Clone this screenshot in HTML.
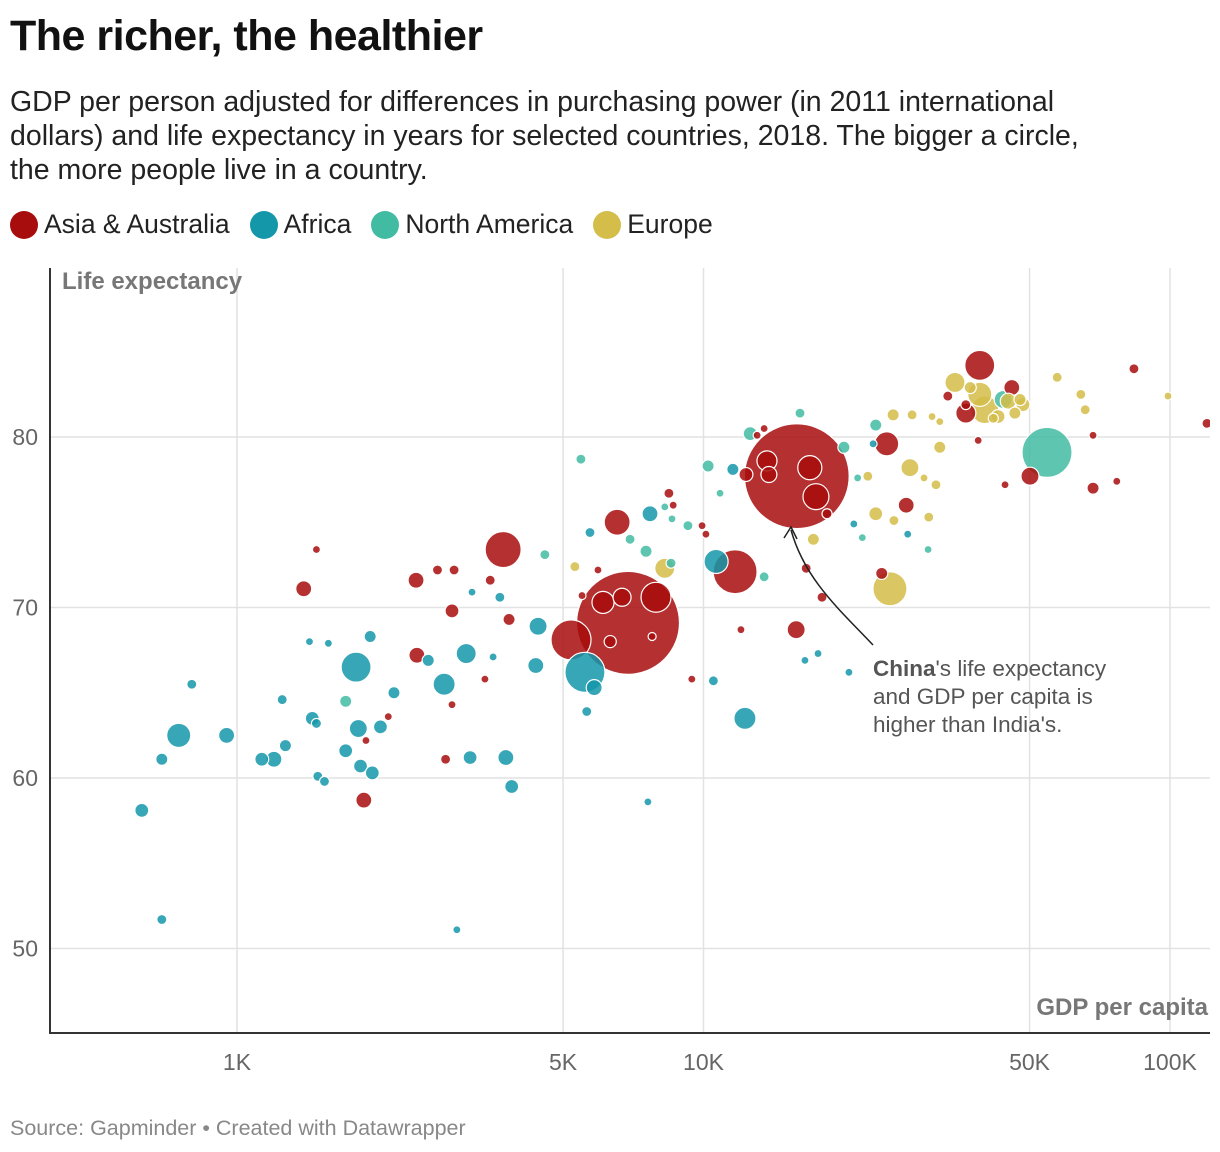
<!DOCTYPE html>
<html><head><meta charset="utf-8">
<style>
body{margin:0;background:#fff;font-family:"Liberation Sans",sans-serif;}
#wrap{position:relative;width:1220px;height:1152px;overflow:hidden;}
h1{position:absolute;left:10px;top:12px;margin:0;font-size:43px;font-weight:bold;color:#111;letter-spacing:-0.5px;}
.sub{position:absolute;left:10px;top:85px;width:1110px;font-size:28.5px;line-height:34px;color:#222;}
.legend{position:absolute;left:10px;top:209px;font-size:26.5px;color:#222;display:flex;gap:20px;}
.legend span{display:flex;align-items:center;}
.legend i{display:inline-block;width:28px;height:28px;border-radius:50%;margin-right:6px;}
.src{position:absolute;left:10px;top:1116px;font-size:21.5px;color:#888;}
svg{position:absolute;left:0;top:0;}
</style></head><body>
<div id="wrap">
<h1>The richer, the healthier</h1>
<div class="sub">GDP per person adjusted for differences in purchasing power (in 2011 international dollars) and life expectancy in years for selected countries, 2018. The bigger a circle, the more people live in a country.</div>
<div class="legend">
<span><i style="background:#a80d0d"></i>Asia &amp; Australia</span>
<span><i style="background:#1497a9"></i>Africa</span>
<span><i style="background:#42bba3"></i>North America</span>
<span><i style="background:#d4bd48"></i>Europe</span>
</div>
<svg id="chart" width="1220" height="1152"></svg>
<div class="src">Source: Gapminder • Created with Datawrapper</div>
</div>
<script>
const xTicks=[1000,5000,10000,50000,100000];
const xTickLabels=["1K","5K","10K","50K","100K"];
const yTicks=[50,60,70,80];
const regions=["asia","africa","namerica","europe"];
const regionColors=["#a80d0d","#1497a9","#42bba3","#d4bd48"];
const africa=[[625,58.1,25],[690,51.7,13],[690,61.1,19],[750,62.5,75],[800,65.5,13],[950,62.5,33],[1130,61.1,25],[1200,61.1,33],[1270,61.9,19],[1250,64.6,13],[1430,68.0,8],[1450,63.5,25],[1480,63.2,13],[1490,60.1,13],[1540,59.8,13],[1570,67.9,8],[1710,61.6,25],[1800,66.5,116],[1820,62.9,42],[1840,60.7,25],[1930,68.3,19],[1950,60.3,25],[2030,63.0,25],[2170,65.0,19],[2570,66.9,19],[2780,65.5,63],[2960,51.1,8],[3100,67.3,52],[3160,61.2,25],[3190,70.9,8],[3540,67.1,8],[3660,70.6,13],[3770,61.2,33],[3880,59.5,25],[4420,68.9,42],[4370,66.6,33],[5570,66.2,207],[5830,65.3,33],[5620,63.9,13],[7600,58.6,8],[10500,65.7,13],[10640,72.7,75],[12270,63.5,63],[11560,78.1,19],[7680,75.5,33],[16500,66.9,8],[17600,67.3,8],[20500,66.2,8],[21000,74.9,8],[27400,74.3,8],[23100,79.6,8],[5710,74.4,13]];
const northAmerica=[[1710,64.5,19],[4570,73.1,13],[5460,78.7,13],[6960,74.0,13],[7530,73.3,19],[8260,75.9,8],[9260,74.8,13],[8560,75.2,8],[10230,78.3,19],[10850,76.7,8],[12590,80.2,25],[13490,71.8,13],[16100,81.4,13],[20000,79.4,19],[21400,77.6,8],[21900,74.1,8],[23400,80.7,19],[30300,73.4,8],[43900,82.2,42],[54500,79.1,323],[8520,72.6,13]];
const europe=[[5300,72.4,13],[8260,72.3,52],[17200,74.0,19],[22500,77.7,13],[23400,75.5,25],[25600,75.1,13],[25100,71.1,150],[25500,81.3,19],[27700,78.2,42],[28000,81.3,13],[29700,77.6,8],[30400,75.3,13],[31500,77.2,13],[32100,79.4,19],[32100,80.9,8],[34600,83.2,52],[37300,82.9,19],[39100,82.5,75],[40100,81.6,100],[42800,81.2,25],[45000,82.1,33],[46500,81.4,19],[47700,82.2,19],[48400,81.9,25],[57300,83.5,13],[64400,82.5,13],[65800,81.6,13],[99000,82.4,8],[30900,81.2,8],[41800,81.1,13]];
const asia=[[1390,71.1,33],[1480,73.4,8],[1870,58.7,33],[1890,62.2,8],[2110,63.6,8],[2420,71.6,33],[2430,67.2,33],[2690,72.2,13],[2890,69.8,25],[2890,64.3,8],[2800,61.1,13],[2920,72.2,13],[3400,65.8,8],[3490,71.6,13],[3720,73.4,168],[3830,69.3,19],[5200,68.1,207],[5490,70.7,8],[5940,72.2,8],[6090,70.3,63],[6310,68.0,19],[6530,75.0,87],[6890,69.1,1370],[6690,70.6,42],[7760,68.3,8],[7910,70.6,116],[8430,76.7,13],[8610,76.0,8],[9440,65.8,8],[9930,74.8,8],[10120,74.3,8],[11690,72.1,250],[12030,68.7,8],[12330,77.8,25],[13030,80.1,8],[13490,80.5,8],[13680,78.6,52],[13810,77.8,33],[15850,77.7,1420],[15800,68.7,42],[16600,72.3,13],[16900,78.2,75],[17420,76.5,87],[17950,70.6,13],[18400,75.5,13],[24700,79.6,75],[24100,72.0,19],[27200,76.0,33],[36500,81.4,52],[39100,84.2,116],[38800,79.8,8],[44300,77.2,8],[45800,82.9,33],[50100,77.7,42],[36500,81.9,13],[33400,82.4,13],[68400,77.0,19],[68400,80.1,8],[76900,77.4,8],[83700,84.0,13],[120000,80.8,13]];

const NS="http://www.w3.org/2000/svg";
const svg=document.getElementById('chart');
const L=50,R=1210,T=268,B=1033;
const xS=v=>237+Math.log10(v/1000)*466.5;
const yS=v=>437-(v-80)*17.05;
const rS=p=>Math.sqrt(p)*1.39;
function mk(t,a){const e=document.createElementNS(NS,t);for(const k in a)e.setAttribute(k,a[k]);return e;}
const defs=mk('defs',{});const cp=mk('clipPath',{id:'pc'});cp.appendChild(mk('rect',{x:L,y:T,width:R-L,height:B-T}));defs.appendChild(cp);svg.appendChild(defs);
yTicks.forEach(t=>{
  const g=mk('line',{x1:L,x2:R,y1:yS(t),y2:yS(t),stroke:'#e2e2e2','stroke-width':1.5});
  svg.appendChild(g);
  const tx=mk('text',{x:38,y:yS(t)+8,'text-anchor':'end','font-size':23,fill:'#666','font-family':'Liberation Sans, sans-serif'});
  tx.textContent=t;svg.appendChild(tx);
});
xTicks.forEach((t,i)=>{
  const g=mk('line',{x1:xS(t),x2:xS(t),y1:T,y2:B,stroke:'#e2e2e2','stroke-width':1.5});
  svg.appendChild(g);
  const tx=mk('text',{x:xS(t),y:1070,'text-anchor':'middle','font-size':23,fill:'#666','font-family':'Liberation Sans, sans-serif'});
  tx.textContent=xTickLabels[i];svg.appendChild(tx);
});
const ax=mk('path',{d:`M${L},${T}V${B}H${R}`,fill:'none',stroke:'#333','stroke-width':2});
svg.appendChild(ax);
const yt=mk('text',{x:62,y:289,'font-size':24,'font-weight':'bold',fill:'#777','font-family':'Liberation Sans, sans-serif'});
yt.textContent='Life expectancy';svg.appendChild(yt);
const xt=mk('text',{x:1208,y:1015,'text-anchor':'end','font-size':24,'font-weight':'bold',fill:'#777','font-family':'Liberation Sans, sans-serif'});
xt.textContent='GDP per capita';svg.appendChild(xt);

const all=[];
[asia,africa,northAmerica,europe].forEach((arr,ri)=>arr.forEach(d=>all.push([d[0],d[1],d[2],ri])));
all.sort((a,b)=>b[2]-a[2]);
const pg=mk('g',{'clip-path':'url(#pc)'});svg.appendChild(pg);
all.forEach(d=>{
  const c=mk('circle',{cx:xS(d[0]),cy:yS(d[1]),r:Math.max(4,rS(d[2])),fill:regionColors[d[3]],'fill-opacity':0.85,stroke:'#fff','stroke-width':1.2});
  
  
  pg.appendChild(c);
});
const arr=mk('path',{d:'M873,645 C840,610 805,580 791,530',fill:'none',stroke:'#222','stroke-width':1.5});
svg.appendChild(arr);
const ah=mk('path',{d:'M784,538 L791,527 L797,539',fill:'none',stroke:'#222','stroke-width':1.5});
svg.appendChild(ah);
const at=mk('text',{x:873,'font-size':22.5,fill:'#555','font-family':'Liberation Sans, sans-serif'});

at.innerHTML='<tspan x="873" y="676"><tspan font-weight="bold">China</tspan>\'s life expectancy</tspan><tspan x="873" y="704">and GDP per capita is</tspan><tspan x="873" y="732">higher than India\'s.</tspan>';
svg.appendChild(at);
</script>
</body></html>
